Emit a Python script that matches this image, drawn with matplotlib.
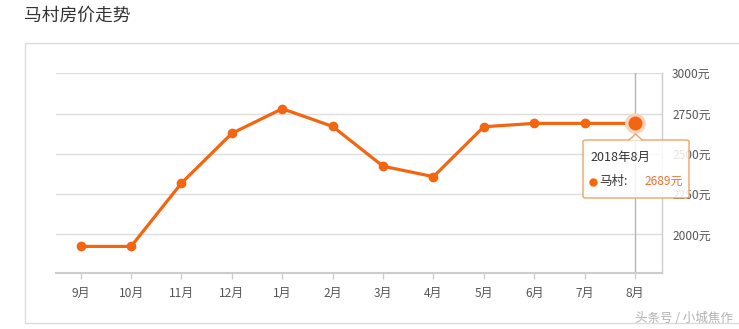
import matplotlib
matplotlib.use("Agg")
import matplotlib.pyplot as plt
from matplotlib.patches import Rectangle, FancyBboxPatch, Polygon
from matplotlib.lines import Line2D

plt.rcParams['font.family'] = ['Noto Sans CJK SC', 'DejaVu Sans']

# ---- data ----
months = ['9月', '10月', '11月', '12月', '1月', '2月', '3月', '4月', '5月', '6月', '7月', '8月']
prices = [1925, 1925, 2318, 2627, 2780, 2670, 2423, 2358, 2668, 2689, 2689, 2689]
ytick_values = [2000, 2250, 2500, 2750, 3000]
ytick_labels = ['2000元', '2250元', '2500元', '2750元', '3000元']
title_text = '马村房价走势'
tooltip_title = '2018年8月'
series_name = '马村'
tooltip_value = '2689元'
watermark = '头条号 / 小城焦作'

W, H = 739, 329
fig = plt.figure(figsize=(W / 100, H / 100), dpi=100)

def fx(px):
    return px / W

def fy(py):
    return 1 - py / H

ORANGE = '#F4650F'

# outer box
fig.patches.append(Rectangle((fx(25), fy(323)), fx(760) - fx(25), fy(43) - fy(323),
                             transform=fig.transFigure, fill=False,
                             edgecolor='#dcdcdc', linewidth=1.0, zorder=0))

fig.text(fx(24), fy(16), title_text, fontsize=12.8, color='#333333',
         ha='left', va='center')

ax = fig.add_axes([fx(56), fy(273.3), fx(661.7) - fx(56), fy(73.3) - fy(273.3)])
x = list(range(len(months)))
ax.set_xlim(-0.49, len(months) - 1 + 0.53)
ax.set_ylim(1758, 3000)

ax.set_yticks(ytick_values)
ax.set_yticklabels(ytick_labels)
ax.yaxis.tick_right()
ax.tick_params(axis='y', length=0, pad=7.5, labelsize=8.6, labelcolor='#555555')
ax.grid(axis='y', color='#dddddd', linewidth=1.0)
ax.set_axisbelow(True)

ax.set_xticks(x)
ax.set_xticklabels(months)
ax.tick_params(axis='x', direction='out', length=4, width=1, color='#cccccc',
               pad=6, labelsize=8.6, labelcolor='#555555')

for side in ['left', 'top']:
    ax.spines[side].set_visible(False)
ax.spines['right'].set_color('#cccccc')
ax.spines['right'].set_linewidth(1.0)
ax.spines['bottom'].set_color('#cccccc')
ax.spines['bottom'].set_linewidth(1.5)

# axis pointer
ax.axvline(x[-1], color='#b5b5b5', linewidth=1.0, zorder=2)

ax.plot(x, prices, color=ORANGE, linewidth=2.3, marker='o', markersize=6,
        zorder=3, clip_on=False)
# highlighted point
ax.plot([x[-1]], [prices[-1]], marker='o', markersize=14, color='#fbd3bd',
        linestyle='none', zorder=4, clip_on=False)
ax.plot([x[-1]], [prices[-1]], marker='o', markersize=9, color=ORANGE,
        linestyle='none', zorder=5, clip_on=False)

# tooltip
bx0, by0, bx1, by1 = 583, 140, 689, 198
box = FancyBboxPatch((fx(bx0), fy(by1)), fx(bx1) - fx(bx0), fy(by0) - fy(by1),
                     boxstyle='round,pad=0,rounding_size=0.004',
                     transform=fig.transFigure, facecolor=(1, 1, 1, 0.85),
                     edgecolor='#f0a36a', linewidth=1.0, zorder=10)
fig.patches.append(box)
tri = Polygon([(fx(629), fy(140.5)), (fx(635.7), fy(134)), (fx(642), fy(140.5))],
              closed=True, transform=fig.transFigure, facecolor='white',
              edgecolor='none', zorder=11)
fig.patches.append(tri)
fig.lines.append(Line2D([fx(629), fx(635.7), fx(642)], [fy(140), fy(134), fy(140)],
                        transform=fig.transFigure, color='#f0a36a', linewidth=1.0,
                        zorder=12))
fig.text(fx(590), fy(157), tooltip_title, fontsize=9, color='#333333',
         ha='left', va='center', zorder=13)
fig.lines.append(Line2D([fx(593)], [fy(182)], transform=fig.transFigure,
                        marker='o', markersize=5, color=ORANGE, linestyle='none',
                        zorder=13))
fig.text(fx(599), fy(181), series_name + ':', fontsize=9, color='#333333',
         ha='left', va='center', zorder=13)
fig.text(fx(683), fy(181), tooltip_value, fontsize=8.6, color='#f07030',
         ha='right', va='center', zorder=13)

fig.text(fx(733), fy(318), watermark, fontsize=9, color='#aaaaaa',
         ha='right', va='center', alpha=0.9)

fig.savefig('out.png', dpi=100)
